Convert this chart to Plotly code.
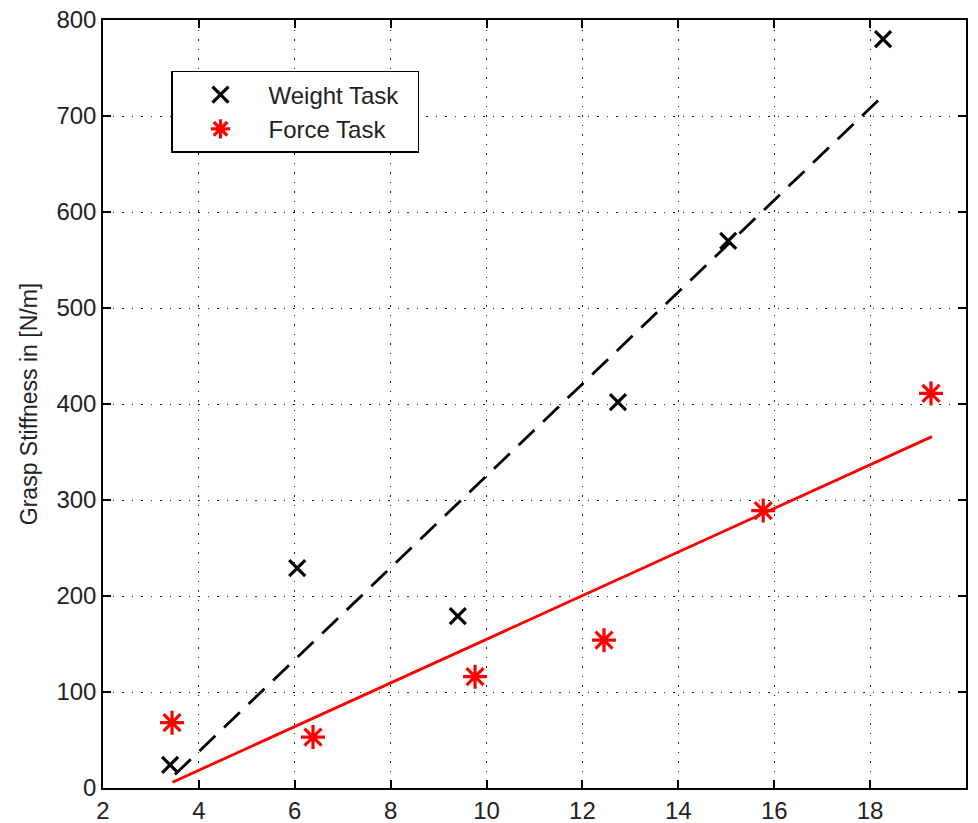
import plotly.graph_objects as go

weight_x = [3.40, 6.05, 9.40, 12.74, 15.04, 18.27]
weight_y = [24, 229, 179, 402, 570, 780]
force_x = [3.44, 6.38, 9.76, 12.45, 15.77, 19.27]
force_y = [68, 53, 116, 154, 289, 411]
weight_fit_x = [3.50, 18.31]
weight_fit_y = [14, 723]
force_fit_x = [3.45, 19.29]
force_fit_y = [6, 366]
x_ticks = [2, 4, 6, 8, 10, 12, 14, 16, 18, 20]
y_ticks = [0, 100, 200, 300, 400, 500, 600, 700, 800]

FONT = "Liberation Sans, Arial, sans-serif"

fig = go.Figure()
fig.add_trace(go.Scatter(x=weight_x, y=weight_y, mode="markers", name="Weight Task  ",
                         marker=dict(symbol="x-thin", size=16, color="black",
                                     line=dict(color="black", width=3.2))))
fig.add_trace(go.Scatter(x=force_x, y=force_y, mode="markers", name="Force Task",
                         marker=dict(symbol="asterisk", size=20, color="red",
                                     line=dict(color="red", width=3.2))))
fig.add_trace(go.Scatter(x=weight_fit_x, y=weight_fit_y, mode="lines", showlegend=False,
                         line=dict(color="black", width=2.8, dash="22px,12px")))
fig.add_trace(go.Scatter(x=force_fit_x, y=force_fit_y, mode="lines", showlegend=False,
                         line=dict(color="red", width=2.8)))

axis_common = dict(showline=True, linecolor="black", linewidth=1.5, mirror="ticks",
                   ticks="inside", ticklen=8, tickwidth=1.5, tickcolor="black",
                   showgrid=True, gridcolor="#222", gridwidth=1.2, griddash="1.5px,8px",
                   zeroline=False, automargin=False,
                   tickfont=dict(family=FONT, size=24, color="#222"))

fig.update_xaxes(range=[2, 20], tickvals=x_ticks, **axis_common)
fig.update_yaxes(range=[0, 800], tickvals=y_ticks,
                 title=dict(text="Grasp Stiffness in [N/m]", font=dict(family=FONT, size=23, color="#222"),
                            standoff=12),
                 **axis_common)

fig.update_layout(
    width=978, height=823,
    margin=dict(l=103, r=12, t=20, b=35),
    paper_bgcolor="white", plot_bgcolor="white",
    font=dict(family=FONT, size=24, color="#222"),
    legend=dict(x=0.0788, y=0.9336, xanchor="left", yanchor="top",
                bgcolor="white", bordercolor="black", borderwidth=1.5,
                itemwidth=86, font=dict(family=FONT, size=24, color="#222")),
)

fig.write_html("out.html")
